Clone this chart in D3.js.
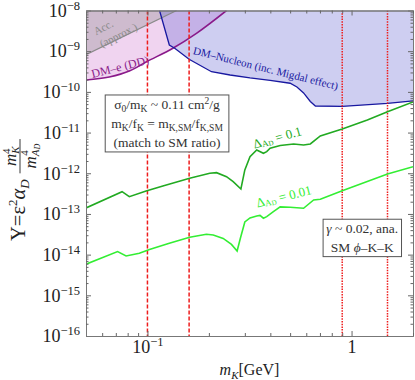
<!DOCTYPE html>
<html>
<head>
<meta charset="utf-8">
<script src="https://cdn.jsdelivr.net/npm/d3@7"></script>
<style>
  body { margin: 0; background: #fff; }
  svg { display: block; }
  text { font-family: "Liberation Serif", "Times New Roman", serif; }
</style>
</head>
<body>
<svg id="chart" width="415" height="380"></svg>
<script>
// ---- values ----
// Delta_AD = 0.1 curve
var dark_m = [0.05, 0.0751, 0.0815, 0.0985, 0.119, 0.161, 0.202, 0.218, 0.244, 0.263, 0.287, 0.300, 0.318, 0.343, 0.370, 0.384, 0.399, 0.447, 0.520, 0.582, 0.628, 0.703, 0.90, 1.195, 1.50, 2.0]
var dark_Y = [1.40e-13, 3.53e-13, 2.66e-13, 3.67e-13, 4.88e-13, 7.54e-13, 1.0e-12, 1.035e-12, 8.25e-13, 6.22e-13, 4.11e-13, 1.21e-12, 2.56e-12, 3.73e-12, 3.10e-12, 3.40e-12, 4.11e-12, 4.82e-12, 5.25e-12, 4.96e-12, 5.25e-12, 8.25e-12, 1.23e-11, 2.04e-11, 3.26e-11, 5.65e-11]

// Delta_AD = 0.01 curve
var light_m = [0.05, 0.0714, 0.0786, 0.0913, 0.1023, 0.128, 0.161, 0.1945, 0.210, 0.235, 0.258, 0.275, 0.2855, 0.300, 0.318, 0.343, 0.356, 0.370, 0.384, 0.414, 0.447, 0.50, 0.582, 0.652, 0.703, 0.90, 1.50, 2.0]
var light_Y = [5.81e-15, 1.19e-14, 9.29e-15, 1.08e-14, 1.34e-14, 1.91e-14, 2.68e-14, 3.17e-14, 3.05e-14, 2.50e-14, 1.78e-14, 1.23e-14, 2.57e-14, 6.36e-14, 7.98e-14, 8.93e-14, 9.19e-14, 7.84e-14, 8.59e-14, 1.14e-13, 1.49e-13, 1.46e-13, 1.38e-13, 2.21e-13, 2.30e-13, 3.73e-13, 9.61e-13, 1.45e-12]

// DM-Nucleon bound (excluded above)
var nuc_m = [0.1146, 0.128, 0.136, 0.160, 0.206, 0.254, 0.318, 0.399, 0.50, 0.540, 0.582, 0.628, 0.665, 0.90, 1.50, 2.0]
var nuc_Y = [1e-8, 1.42e-9, 1.18e-9, 6.32e-10, 3.13e-10, 2.60e-10, 2.20e-10, 1.91e-10, 1.63e-10, 1.32e-10, 9.40e-11, 5.81e-11, 4.50e-11, 4.38e-11, 5.19e-11, 5.98e-11]

// DM-e (DD) bound
var dme_m = [0.05, 0.065, 0.0815, 0.0985, 0.1332, 0.1738, 0.244]
var dme_Y = [1.96e-10, 2.32e-10, 3.26e-10, 5.43e-10, 1.18e-9, 2.75e-9, 1e-8]

// Acc. (approx.)
var acc_m = [0.05, 0.139]
var acc_Y = [8.2e-10, 1e-8]

// red reference masses
var dashed_m = [0.1, 0.16]
var dotted_m = [0.9, 1.5]

// ticks
var yExp = [-16, -15, -14, -13, -12, -11, -10, -9, -8]
var xMajor = [0.1, 1]
var xMajorLabel = [['10', '\u22121'], ['1', '']]
var xMinor = [0.06, 0.07, 0.08, 0.09, 0.2, 0.3, 0.4, 0.5, 0.6, 0.7, 0.8, 0.9, 2]

// ---- layout ----
var L = 86, R = 413, T = 10.5, B = 336
var svg = d3.select('#chart')

var x = d3.scaleLog().domain([0.05, 2]).range([L, R])
var y = d3.scaleLog().domain([1e-16, 1e-8]).range([B, T])

var yMajor = yExp.map(function (e) { return Math.pow(10, e) })
var yMinor = []
yExp.slice(0, -1).forEach(function (e) {
  for (var k = 2; k < 10; k++) yMinor.push(k * Math.pow(10, e))
})

function pts(ms, ys) { return ms.map(function (m, i) { return [m, ys[i]] }) }

var line = d3.line()
  .x(function (d) { return x(d[0]) })
  .y(function (d) { return y(d[1]) })

var areaAbove = d3.area()
  .x(function (d) { return x(d[0]) })
  .y0(T - 2)
  .y1(function (d) { return y(d[1]) })

svg.append('defs').append('clipPath').attr('id', 'clip')
  .append('rect')
  .attr('x', L).attr('y', T).attr('width', R - L).attr('height', B - T)

var plot = svg.append('g').attr('clip-path', 'url(#clip)')

// regions
plot.append('path').datum(pts(dme_m, dme_Y))
  .attr('d', areaAbove.curve(d3.curveMonotoneX))
  .attr('fill', 'rgb(200,100,200)').attr('fill-opacity', 0.28)
plot.append('path').datum(pts(acc_m, acc_Y))
  .attr('d', areaAbove.curve(d3.curveLinear))
  .attr('fill', 'rgb(128,128,128)').attr('fill-opacity', 0.3)
plot.append('path').datum(pts(nuc_m, nuc_Y))
  .attr('d', areaAbove.curve(d3.curveLinear))
  .attr('fill', 'rgb(110,110,215)').attr('fill-opacity', 0.34)

// region borders
plot.append('path').datum(pts(acc_m, acc_Y))
  .attr('d', line).attr('fill', 'none').attr('stroke', '#8a8a8a').attr('stroke-width', 1.2)
plot.append('path').datum(pts(dme_m, dme_Y))
  .attr('d', line.curve(d3.curveMonotoneX)).attr('fill', 'none').attr('stroke', '#8a1a8a').attr('stroke-width', 1.6)
line.curve(d3.curveLinear)
plot.append('path').datum(pts(nuc_m, nuc_Y))
  .attr('d', line).attr('fill', 'none').attr('stroke', '#1818a0').attr('stroke-width', 1.3)

// red lines
plot.selectAll('.dashed').data(dashed_m).enter().append('line')
  .attr('class', 'dashed')
  .attr('x1', function (d) { return x(d) }).attr('x2', function (d) { return x(d) })
  .attr('y1', T).attr('y2', B)
  .attr('stroke', '#ee1c1c').attr('stroke-width', 1.5).attr('stroke-dasharray', '4,2')
plot.selectAll('.dotted').data(dotted_m).enter().append('line')
  .attr('class', 'dotted')
  .attr('x1', function (d) { return x(d) }).attr('x2', function (d) { return x(d) })
  .attr('y1', T).attr('y2', B)
  .attr('stroke', '#ee1c1c').attr('stroke-width', 1.5).attr('stroke-dasharray', '1.5,1.2')

// green curves
plot.append('path').datum(pts(dark_m, dark_Y))
  .attr('d', line).attr('fill', 'none').attr('stroke', '#22aa22').attr('stroke-width', 1.6)
plot.append('path').datum(pts(light_m, light_Y))
  .attr('d', line).attr('fill', 'none').attr('stroke', '#33ee33').attr('stroke-width', 1.6)

// ---- axes ----
function styleAxis(g) {
  g.attr('font-family', '"Liberation Serif", serif').attr('font-size', 18).attr('color', '#666')
  g.selectAll('text').attr('fill', '#222')
  g.select('.domain').attr('stroke', '#777')
}

var yAxis = svg.append('g').attr('transform', 'translate(' + L + ',0)')
  .call(d3.axisLeft(y).tickValues(yMajor).tickSizeInner(-5).tickSizeOuter(0).tickPadding(6).tickFormat(''))
  .call(styleAxis)
yAxis.selectAll('.tick text').each(function (d) {
  var t = d3.select(this)
  t.append('tspan').text('10')
  t.append('tspan').attr('dy', -7).attr('font-size', 12.5).text('\u2212' + Math.round(-Math.log10(d)))
})
svg.append('g').attr('transform', 'translate(' + L + ',0)')
  .call(d3.axisLeft(y).tickValues(yMinor).tickSizeInner(-2.5).tickSizeOuter(0).tickFormat(''))
  .call(styleAxis)

svg.append('g').attr('transform', 'translate(' + R + ',0)')
  .call(d3.axisRight(y).tickValues(yMajor).tickSizeInner(-5).tickSizeOuter(0).tickFormat(''))
  .call(styleAxis)
svg.append('g').attr('transform', 'translate(' + R + ',0)')
  .call(d3.axisRight(y).tickValues(yMinor).tickSizeInner(-2.5).tickSizeOuter(0).tickFormat(''))
  .call(styleAxis)

var xAxis = svg.append('g').attr('transform', 'translate(0,' + B + ')')
  .call(d3.axisBottom(x).tickValues(xMajor).tickSizeInner(-5).tickSizeOuter(0).tickPadding(4).tickFormat(''))
  .call(styleAxis)
xAxis.selectAll('.tick text').each(function (d, i) {
  var t = d3.select(this)
  t.append('tspan').text(xMajorLabel[i][0])
  if (xMajorLabel[i][1]) t.append('tspan').attr('dy', -7).attr('font-size', 12.5).text(xMajorLabel[i][1])
})
svg.append('g').attr('transform', 'translate(0,' + B + ')')
  .call(d3.axisBottom(x).tickValues(xMinor).tickSizeInner(-3).tickSizeOuter(0).tickFormat(''))
  .call(styleAxis)
svg.append('g').attr('transform', 'translate(0,' + T + ')')
  .call(d3.axisTop(x).tickValues(xMajor).tickSizeInner(-5).tickSizeOuter(0).tickFormat(''))
  .call(styleAxis)
svg.append('g').attr('transform', 'translate(0,' + T + ')')
  .call(d3.axisTop(x).tickValues(xMinor).tickSizeInner(-3).tickSizeOuter(0).tickFormat(''))
  .call(styleAxis)

// x label
var xl = svg.append('text').attr('x', (L + R) / 2).attr('y', 375)
  .attr('text-anchor', 'middle').attr('font-size', 16).attr('fill', '#222')
xl.append('tspan').attr('font-style', 'italic').text('m')
xl.append('tspan').attr('font-style', 'italic').attr('font-size', 11).attr('dy', 4).text('K')
xl.append('tspan').attr('dy', -4).text('[GeV]')

// y label: Y = eps^2 alpha_D m_K^4 / m_AD^4
var yl = svg.append('g').attr('transform', 'translate(25,190) rotate(-90)').attr('fill', '#222')
var main = yl.append('text').attr('font-size', 20.5)
main.append('tspan').text('Y=\u03b5')
main.append('tspan').attr('font-size', 13).attr('dy', -8).text('2')
main.append('tspan').attr('dy', 8).attr('font-style', 'italic').text('\u03b1')
main.append('tspan').attr('font-size', 13).attr('dy', 4).attr('font-style', 'italic').text('D')
var num = yl.append('text').attr('font-size', 17).attr('text-anchor', 'middle').attr('y', -9)
num.append('tspan').attr('font-style', 'italic').text('m')
num.append('tspan').attr('font-style', 'italic').attr('font-size', 11).attr('dy', 3).text('K')
num.append('tspan').attr('font-size', 11).attr('dx', -7.5).attr('dy', -9).text('4')
var den = yl.append('text').attr('font-size', 17).attr('text-anchor', 'middle').attr('y', 10.5)
den.append('tspan').attr('font-style', 'italic').text('m')
den.append('tspan').attr('font-style', 'italic').attr('font-size', 11).attr('dy', 3).text('A')
den.append('tspan').attr('font-style', 'italic').attr('font-size', 8).attr('dy', 1.5).text('D')
den.append('tspan').attr('font-size', 11).attr('dx', -12).attr('dy', -12.5).text('4')

var wMain = main.node().getComputedTextLength()
var wFrac = Math.max(num.node().getComputedTextLength(), den.node().getComputedTextLength()) + 4
var gap = 6
var total = wMain + gap + wFrac
main.attr('x', -total / 2)
var fc = -total / 2 + wMain + gap + wFrac / 2
num.attr('x', fc)
den.attr('x', fc)
yl.append('line').attr('x1', fc - wFrac / 2).attr('x2', fc + wFrac / 2)
  .attr('y1', -5).attr('y2', -5).attr('stroke', '#222').attr('stroke-width', 0.9)

// ---- annotations ----
function rotLabel(m, Y, angle, size, color) {
  return svg.append('text')
    .attr('transform', 'translate(' + x(m) + ',' + y(Y) + ') rotate(' + angle + ')')
    .attr('text-anchor', 'middle').attr('dominant-baseline', 'central')
    .attr('font-size', size).attr('fill', color)
}

rotLabel(0.0607, 3.9e-9, -27, 11, '#8a8a8a').text('Acc.')
rotLabel(0.0720, 2.5e-9, -27, 11, '#8a8a8a').text('(approx.)')
rotLabel(0.0735, 4.1e-10, -14, 12, '#8a1a8a').text('DM\u2013e (DD)')
rotLabel(0.380, 3.86e-10, 14, 11, '#1818a0').text('DM\u2013Nucleon (inc. Migdal effect)')

function deltaLabel(m, Y, angle, color, val) {
  var t = rotLabel(m, Y, angle, 13, color)
  t.append('tspan').text('\u0394')
  t.append('tspan').attr('font-size', 9).attr('dy', 3).text('A')
  t.append('tspan').attr('font-size', 7).attr('dy', 1.5).text('D')
  t.append('tspan').attr('dy', -4.5).text(' = ' + val)
}
deltaLabel(0.432, 7.8e-12, -16, '#22aa22', '0.1')
deltaLabel(0.465, 2.77e-13, -14, '#33ee33', '0.01')

// boxes
function box(m0, Y0, m1, Y1, lines) {
  var x0 = x(m0), x1 = x(m1), y0 = y(Y0), y1 = y(Y1)
  svg.append('rect').attr('x', x0).attr('y', y0).attr('width', x1 - x0).attr('height', y1 - y0)
    .attr('fill', '#fff').attr('stroke', '#555').attr('stroke-width', 1)
  var step = (y1 - y0) / lines.length
  lines.forEach(function (parts, i) {
    var t = svg.append('text').attr('x', (x0 + x1) / 2).attr('y', y0 + step * (i + 0.5) + 4.5)
      .attr('text-anchor', 'middle').attr('font-size', 13.5).attr('fill', '#333')
    parts.forEach(function (p) {
      var s = t.append('tspan').text(p[0])
      if (p[1] === 'sub') s.attr('font-size', 9.5).attr('dy', 3)
      if (p[1] === 'up') s.attr('dy', -3)
      if (p[1] === 'sup') s.attr('font-size', 9.5).attr('dy', -5)
      if (p[1] === 'down') s.attr('dy', 5)
      if (p[1] === 'it') s.attr('font-style', 'italic')
    })
  })
}

box(0.0621, 8.39e-11, 0.2506, 3.34e-12, [
  [['\u03c3'], ['0', 'sub'], ['/m', 'up'], ['K', 'sub'], [' ~ 0.11 cm', 'up'], ['2', 'sup'], ['/g', 'down']],
  [['m'], ['K', 'sub'], ['/f', 'up'], ['K', 'sub'], [' = m', 'up'], ['K,SM', 'sub'], ['/f', 'up'], ['K,SM', 'sub']],
  [['(match to SM ratio)']]
])
box(0.7254, 7.41e-14, 1.757, 8.93e-15, [
  [['\u03b3', 'it'], [' ~ 0.02, ana.']],
  [['SM '], ['\u03d5', 'it'], ['\u2013K\u2013K']]
])
</script>
</body>
</html>
